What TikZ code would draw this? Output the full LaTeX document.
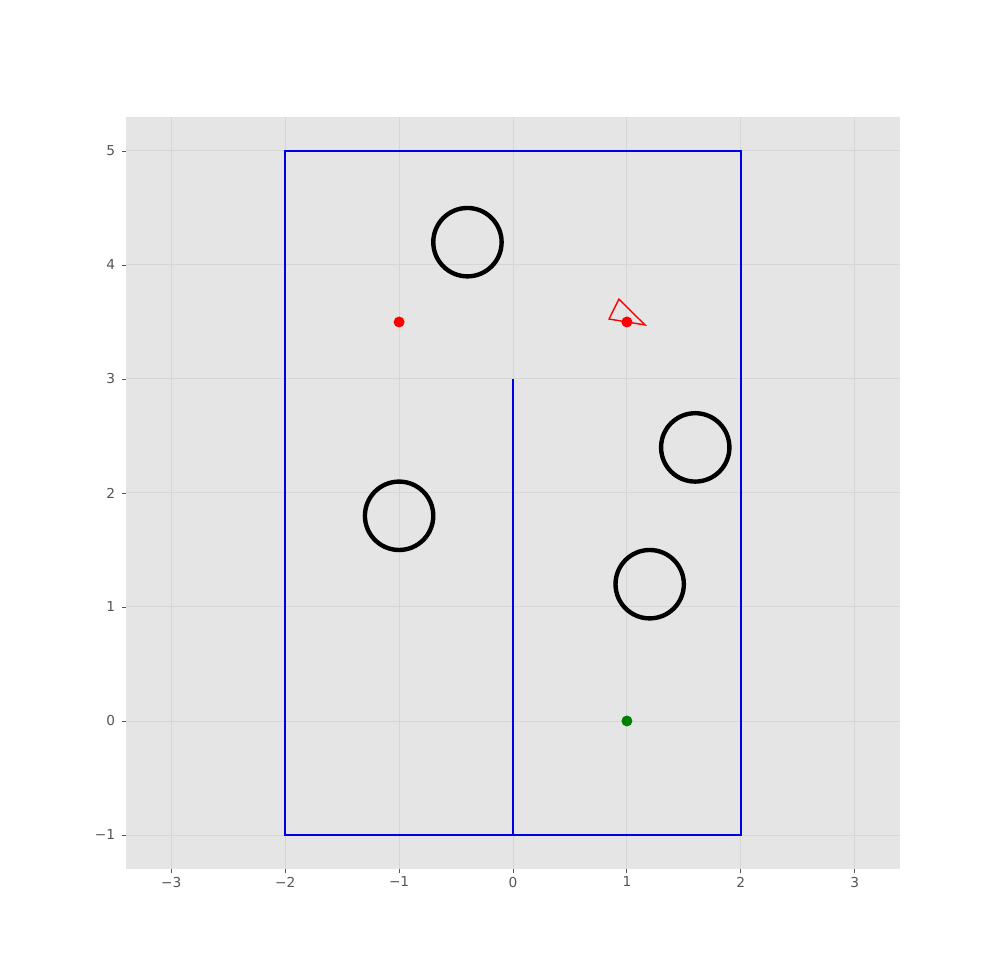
\documentclass[tikz,border=0pt]{standalone}
\usepackage{fontspec}
\setmainfont{DejaVu Sans}
\definecolor{panel}{HTML}{E5E5E5}
\definecolor{gridc}{HTML}{D6D6D6}
\definecolor{ticktxt}{HTML}{555555}
\definecolor{wallblue}{HTML}{0000E8}
\definecolor{goalgreen}{HTML}{008000}
\tikzset{
  gridline/.style={draw=gridc,line width=0.28pt},
  wall/.style={draw=wallblue,line width=0.42pt},
  obstacle/.style={draw=black,line width=1.25pt},
  ticklab/.style={text=ticktxt,font=\fontsize{3.9pt}{4.5pt}\selectfont,inner sep=0pt},
  tickmark/.style={draw=ticktxt,line width=0.25pt},
}
\begin{document}
\begin{tikzpicture}[x=1.139cm,y=1.14cm]
\useasboundingbox[fill=white] (-5.13cm,-2.56cm) rectangle (4.87cm,7.21cm);
% panel
\fill[panel] (-3.4,-1.3) rectangle (3.4,5.3);
\foreach \x in {-3,...,3} \draw[gridline] (\x,-1.3) -- (\x,5.3);
\foreach \y in {-1,...,5} \draw[gridline] (-3.4,\y) -- (3.4,\y);
% ticks and labels
\foreach \x/\l in {-3/−3,-2/−2,-1/−1,0/0,1/1,2/2,3/3}{
  \draw[tickmark] (\x,-1.3) -- ++(0,-0.035cm);
  \node[ticklab,anchor=north] at ([yshift=-0.07cm]\x,-1.3) {\l};
}
\foreach \y/\l in {-1/−1,0/0,1/1,2/2,3/3,4/4,5/5}{
  \draw[tickmark] (-3.4,\y) -- ++(-0.035cm,0);
  \node[ticklab,anchor=east] at ([xshift=-0.1cm]-3.4,\y) {\l};
}
% walls
\draw[wall] (-2,-1) rectangle (2,5);
\draw[wall] (0,-1) -- (0,3);
% obstacles
\draw[obstacle] (-0.4,4.2) circle (0.3);
\draw[obstacle] (1.6,2.4) circle (0.3);
\draw[obstacle] (-1,1.8) circle (0.3);
\draw[obstacle] (1.2,1.2) circle (0.3);
% robot triangle
\draw[red,line width=0.4pt,line join=miter] (0.93,3.70) -- (0.843,3.526) -- (1.159,3.474) -- cycle;
% points
\fill[red] (-1,3.5) circle (0.055cm);
\fill[red] (1,3.5) circle (0.055cm);
\fill[goalgreen] (1,0) circle (0.055cm);
\end{tikzpicture}
\end{document}
